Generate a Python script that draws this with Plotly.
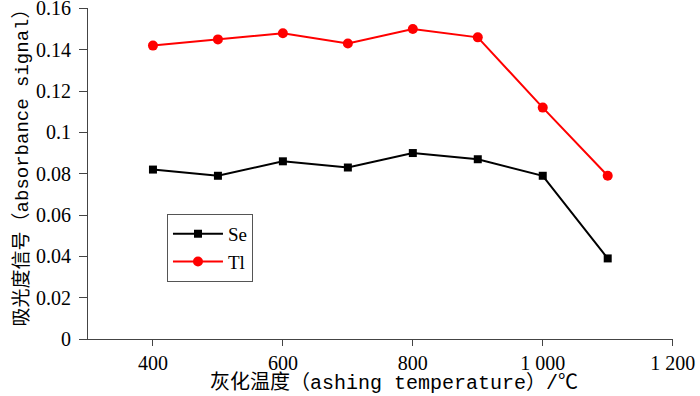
import plotly.graph_objects as go

temps = [400, 500, 600, 700, 800, 900, 1000, 1100]
se_vals = [0.082, 0.079, 0.086, 0.083, 0.090, 0.087, 0.079, 0.039]
tl_vals = [0.142, 0.145, 0.148, 0.143, 0.150, 0.146, 0.112, 0.079]

x_tickvals = [400, 600, 800, 1000, 1200]
x_ticktext = ["400", "600", "800", "1 000", "1 200"]
y_tickvals = [0, 0.02, 0.04, 0.06, 0.08, 0.1, 0.12, 0.14, 0.16]
y_ticktext = ["0", "0.02", "0.04", "0.06", "0.08", "0.1", "0.12", "0.14", "0.16"]

x_title = "灰化温度（ashing temperature）/℃"
y_title = "吸光度信号（absorbance signal）"

num_font = "Liberation Serif, Noto Sans CJK SC, serif"
title_font = "Liberation Mono, Noto Sans CJK SC, monospace"

fig = go.Figure()
fig.add_trace(go.Scatter(x=temps, y=se_vals, name="Se", mode="lines+markers",
                         line=dict(color="black", width=2),
                         marker=dict(symbol="square", size=8, color="black")))
fig.add_trace(go.Scatter(x=temps, y=tl_vals, name="Tl", mode="lines+markers",
                         line=dict(color="#ff0000", width=2),
                         marker=dict(symbol="circle", size=10, color="#ff0000")))

fig.update_layout(
    width=700, height=396,
    margin=dict(l=88, r=27, t=8, b=57, autoexpand=False),
    paper_bgcolor="white", plot_bgcolor="white",
    font=dict(family=num_font, size=20, color="black"),
    showlegend=True,
    legend=dict(x=0.135, y=0.378, xanchor="left", yanchor="top",
                bordercolor="#555555", borderwidth=1, bgcolor="white",
                font=dict(size=19), tracegroupgap=0, itemwidth=50),
    xaxis=dict(range=[300, 1200.5], tickvals=x_tickvals, ticktext=x_ticktext,
               showgrid=False, zeroline=False, showline=True, linecolor="#444444",
               linewidth=1, ticks="outside", ticklen=6, tickcolor="#444444",
               automargin=False, tickfont=dict(size=20), ticklabeloverflow="allow"),
    yaxis=dict(range=[0, 0.1602], tickvals=y_tickvals, ticktext=y_ticktext,
               showgrid=False, zeroline=False, showline=True, linecolor="#444444",
               linewidth=1, ticks="outside", ticklen=8, tickcolor="#444444",
               automargin=False, tickfont=dict(size=20), ticklabeloverflow="allow",
               ticklabelstandoff=4),
    annotations=[
        dict(text=x_title, xref="paper", yref="paper", x=0.523, y=-0.133,
             xanchor="center", yanchor="middle", showarrow=False,
             font=dict(family=title_font, size=20)),
        dict(text=y_title, xref="paper", yref="paper", x=-0.112, y=0.532,
             xanchor="center", yanchor="middle", showarrow=False, textangle=-90,
             font=dict(family=title_font, size=19)),
    ],
)

fig.write_html("out.html", config={"displayModeBar": False},
               post_script="document.body.style.margin='0';")
